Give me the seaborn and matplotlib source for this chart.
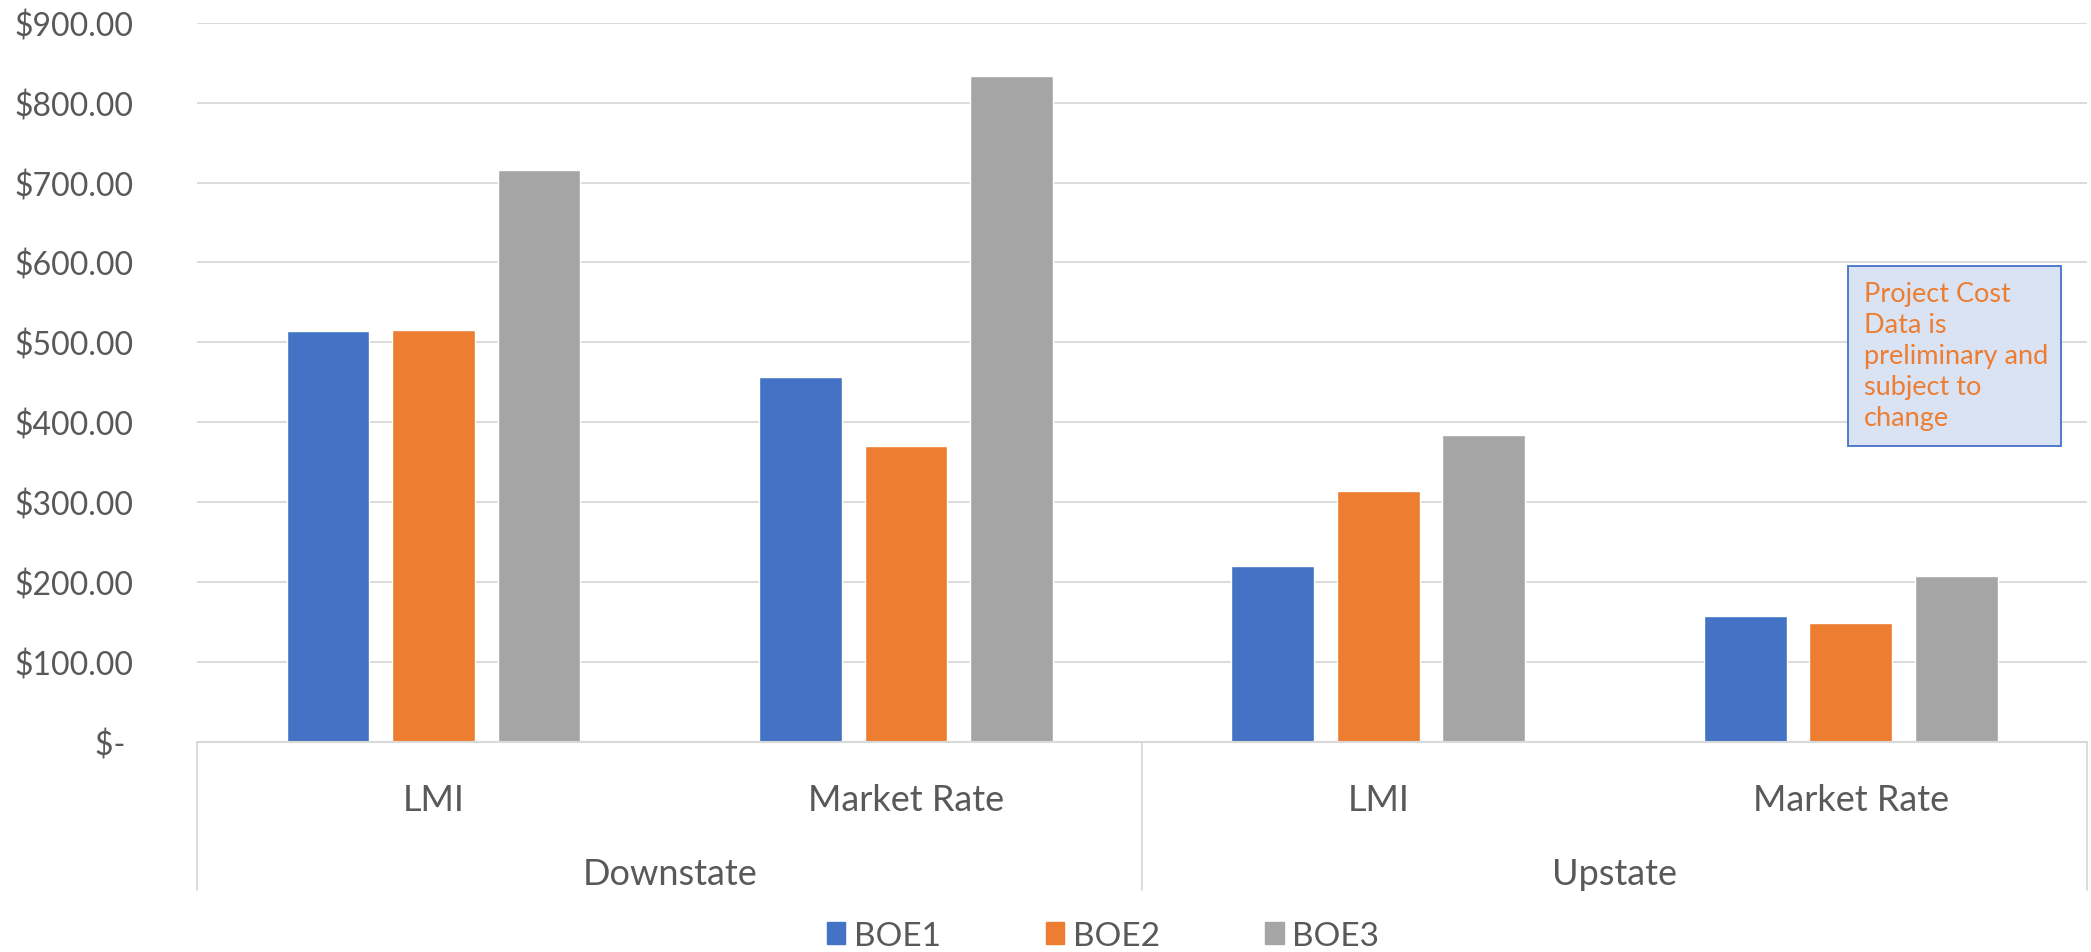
import pandas as pd
import matplotlib.pyplot as plt
import matplotlib.patches as mpatches
import matplotlib.transforms as mtransforms
import seaborn as sns

# Chart data
regions = ["Downstate", "Downstate", "Upstate", "Upstate"]
segments = ["LMI", "Market Rate", "LMI", "Market Rate"]
estimates = ["BOE1", "BOE2", "BOE3"]
boe1 = [514, 457, 220, 158]
boe2 = [516, 370, 314, 149]
boe3 = [716, 834, 384, 208]
y_ticks = [0, 100, 200, 300, 400, 500, 600, 700, 800, 900]
colors = ["#4472C4", "#ED7D31", "#A5A5A5"]
note = "Project Cost\nData is\npreliminary and\nsubject to\nchange"

# Long table for seaborn
cats = [r + " " + s for r, s in zip(regions, segments)]
rows = []
for name, vals in zip(estimates, [boe1, boe2, boe3]):
    for c, v in zip(cats, vals):
        rows.append({"category": c, "cost": v, "estimate": name})
df = pd.DataFrame(rows)

sns.set_theme(style="white")
plt.rcParams["font.family"] = ["Lato", "DejaVu Sans"]
text_color = "#595959"
grid_color = "#D9D9D9"

fig = plt.figure(figsize=(20.91, 9.53), dpi=100)
ax = fig.add_axes([0.0944, 0.2206, 0.9036, 0.7544])

sns.barplot(data=df, x="category", y="cost", hue="estimate", order=cats,
            hue_order=estimates, palette=colors, width=0.67, gap=0.215,
            saturation=1, ax=ax, legend=False)

ax.set_ylim(0, 900)
ax.set_yticks(y_ticks)
ax.set_yticklabels([f"${v:,.2f}" if v else "$- " for v in y_ticks])
ax.yaxis.grid(True, color=grid_color, linewidth=1.3)
ax.set_axisbelow(True)
for s in ax.spines.values():
    s.set_visible(False)
ax.tick_params(axis="y", length=0, pad=46, labelsize=23, labelcolor=text_color)
ax.tick_params(axis="x", length=0, pad=30, labelsize=26, labelcolor=text_color)
ax.set_xticks(range(len(cats)))
ax.set_xticklabels(segments)
ax.set_xlabel("")
ax.set_ylabel("")
ax.set_xlim(-0.5, len(cats) - 0.5)

# Multi-level category axis lines
axis_depth = -0.206
ax.plot([0, 1], [0, 0], color=grid_color, lw=1.5, transform=ax.transAxes, clip_on=False)
for xv in [0, 0.5, 1]:
    ax.plot([xv, xv], [0, axis_depth], color=grid_color, lw=1.3,
            transform=ax.transAxes, clip_on=False)

trans = mtransforms.blended_transform_factory(ax.transData, ax.transAxes)
ax.text(0.5, -0.183, "Downstate", transform=trans, ha="center", va="center",
        fontsize=26, color=text_color)
ax.text(2.5, -0.183, "Upstate", transform=trans, ha="center", va="center",
        fontsize=26, color=text_color)

# Note box
ax.add_patch(mpatches.Rectangle((0.8737, 0.4119), 0.1129, 0.2504, transform=ax.transAxes,
                                facecolor="#DAE3F3", edgecolor="#4472C4", lw=1.3, zorder=5))
ax.text(0.882, 0.641, note, transform=ax.transAxes, ha="left", va="top",
        fontsize=19.5, color="#ED7D31", linespacing=1.3, zorder=6)

# Legend
handles = [mpatches.Patch(color=c, label=n) for c, n in zip(colors, estimates)]
fig.legend(handles=handles, loc="center", bbox_to_anchor=(0.5275, 0.017), ncol=3,
           frameon=False, fontsize=24, handlelength=0.55, handleheight=0.6,
           handletextpad=0.25, columnspacing=3.16, labelcolor=text_color)

fig.savefig("out.png", dpi=100)
